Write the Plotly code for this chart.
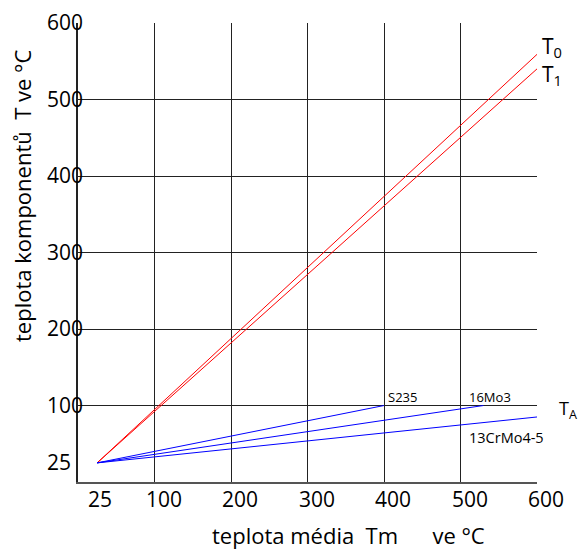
import plotly.graph_objects as go

# data
x_ticks = [25, 100, 200, 300, 400, 500, 600]
y_ticks = [600, 500, 400, 300, 200, 100, 25]
grid_vals = [100, 200, 300, 400, 500, 600]

t0_x = [25, 600]
t0_y = [25, 559]
t1_x = [25, 600]
t1_y = [25, 540]

s235_x = [25, 400]
s235_y = [25, 100]
mo3_x = [25, 530]
mo3_y = [25, 100]
crmo_x = [25, 600]
crmo_y = [25, 85]

FONT = "Open Sans"

fig = go.Figure()
for xs, ys, col in [(t0_x, t0_y, "#ff0000"), (t1_x, t1_y, "#ff0000"),
                    (s235_x, s235_y, "#0000ff"), (mo3_x, mo3_y, "#0000ff"),
                    (crmo_x, crmo_y, "#0000ff")]:
    fig.add_trace(go.Scatter(x=xs, y=ys, mode="lines",
                             line=dict(color=col, width=1), showlegend=False,
                             hoverinfo="skip"))

ann = []
for v in y_ticks:
    ann.append(dict(x=0, xref="paper", y=v, yref="y", text=str(v), showarrow=False,
                    xanchor="left", yanchor="middle", xshift=-33, yshift=1,
                    font=dict(family=FONT, size=21, color="#000")))
for v in x_ticks:
    ann.append(dict(x=v, xref="x", y=0, yref="paper", text=str(v), showarrow=False,
                    xanchor="left", yanchor="top", xshift=-11, yshift=-1,
                    font=dict(family=FONT, size=21, color="#000")))

lbl = [
    dict(x=400, y=100, text="S235", xanchor="left", yanchor="bottom", xshift=2, yshift=-2,
         font=dict(family=FONT, size=13, color="#000")),
    dict(x=500, y=100, text="16Mo3", xanchor="left", yanchor="bottom", xshift=6, yshift=-2,
         font=dict(family=FONT, size=13, color="#000")),
    dict(x=500, y=85, text="13CrMo4-5", xanchor="left", yanchor="top", xshift=6, yshift=-9,
         font=dict(family=FONT, size=14.5, color="#000")),
    dict(x=600, y=90, text="T<sub>A</sub>", xanchor="left", yanchor="middle", xshift=20, yshift=4,
         font=dict(family=FONT, size=18, color="#000")),
    dict(x=600, y=559, text="T<sub>0</sub>", xanchor="left", yanchor="middle", xshift=3, yshift=7,
         font=dict(family=FONT, size=21, color="#000")),
    dict(x=600, y=540, text="T<sub>1</sub>", xanchor="left", yanchor="middle", xshift=3, yshift=-6,
         font=dict(family=FONT, size=21, color="#000")),
]
for a in lbl:
    a.update(xref="x", yref="y", showarrow=False)
ann += lbl

ann.append(dict(x=(348 - 78) / 459, xref="paper", y=-(535 - 482) / 459, yref="paper",
                text="teplota média\u00a0\u00a0Tm\u00a0\u00a0\u00a0\u00a0\u00a0\u00a0ve °C",
                showarrow=False, xanchor="center", yanchor="middle",
                font=dict(family=FONT, size=22, color="#000")))
ann.append(dict(x=-(78 - 22) / 459, xref="paper", y=(482 - 196) / 459, yref="paper",
                text="teplota komponentů\u00a0\u00a0T ve °C", textangle=-90,
                showarrow=False, xanchor="center", yanchor="middle",
                font=dict(family=FONT, size=22, color="#000")))

fig.update_layout(
    width=578, height=549,
    margin=dict(l=78, r=41, t=23, b=67),
    paper_bgcolor="white", plot_bgcolor="white",
    annotations=ann,
    xaxis=dict(range=[0, 600], tickvals=grid_vals, showticklabels=False, ticks="",
               showgrid=True, gridcolor="#222", gridwidth=1, zeroline=False,
               showline=True, linecolor="#555", linewidth=2),
    yaxis=dict(range=[0, 600], tickvals=grid_vals, showticklabels=False, ticks="",
               showgrid=True, gridcolor="#222", gridwidth=1, zeroline=False,
               showline=True, linecolor="#222", linewidth=2),
)

fig.write_html(
    "out.html",
    config={"displayModeBar": False},
    post_script=("document.body.style.margin='0';"
                 "document.body.style.overflow='hidden';"
                 "document.documentElement.style.overflow='hidden';"),
)
